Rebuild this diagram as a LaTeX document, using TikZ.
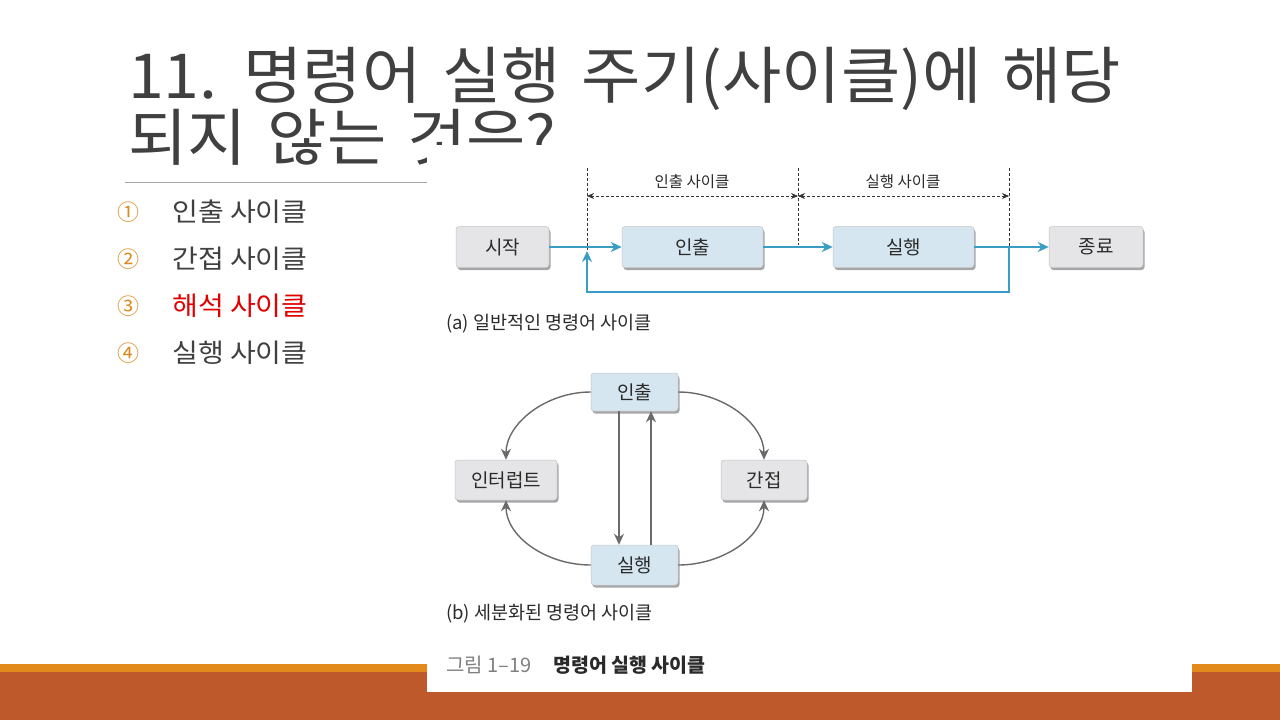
\documentclass[tikz,border=0pt]{standalone}
\usepackage{fontspec}
\setmainfont{Noto Sans CJK KR}
\newfontfamily\titlefont[FakeStretch=1.04,WordSpace=1.45]{Noto Sans CJK KR}
\newfontfamily\listfont[FakeStretch=1.08]{Noto Sans CJK KR}
\usetikzlibrary{arrows.meta,shadows}
\definecolor{titlegray}{HTML}{404040}
\definecolor{listorange}{HTML}{DA8A1E}
\definecolor{listred}{HTML}{E00000}
\definecolor{ruleg}{HTML}{A6A6A6}
\definecolor{bandorange}{HTML}{E38A1D}
\definecolor{banddark}{HTML}{BE592C}
\definecolor{boxgray}{HTML}{E5E5E7}
\definecolor{boxblue}{HTML}{D5E6F1}
\definecolor{boxedge}{HTML}{C4C4C8}
\definecolor{flowblue}{HTML}{3A9DC4}
\definecolor{curvegray}{HTML}{6A6A6A}
\definecolor{dimblack}{HTML}{333333}
\definecolor{figtext}{HTML}{2A2A2A}
\definecolor{figgray}{HTML}{808080}
\begin{document}
\begin{tikzpicture}[x=1pt,y=-1pt,
  basebox/.style={draw=boxedge, line width=0.5pt, rounded corners=3pt, inner sep=0pt,
    text=figtext, font=\fontsize{19}{22}\selectfont,
    drop shadow={shadow xshift=1.5pt, shadow yshift=-2.5pt, opacity=0.35, fill=black}},
  gbox/.style={basebox, fill=boxgray},
  bbox/.style={basebox, fill=boxblue},
  blueflow/.style={draw=flowblue, line width=1.8pt, -{Stealth[length=11pt,width=10pt]}},
  grayflow/.style={draw=curvegray, line width=1.4pt, -{Stealth[length=11pt,width=10pt]}},
  dashline/.style={draw=dimblack, line width=0.7pt, dash pattern=on 3pt off 2pt},
  dimarrow/.style={draw=dimblack, line width=0.7pt, dash pattern=on 3pt off 2pt,
    {Stealth[length=7pt,width=6pt]}-{Stealth[length=7pt,width=6pt]}},
  dimlabel/.style={text=figtext, font=\fontsize{15.5}{18}\selectfont, inner sep=0pt},
  caption/.style={text=figtext, font=\fontsize{18.5}{21}\selectfont, inner sep=0pt, anchor=west},
  titletext/.style={text=titlegray, font=\titlefont\fontsize{62}{70}\selectfont, inner sep=0pt, anchor=base west},
  numtext/.style={text=listorange, font=\fontsize{22}{26}\selectfont, inner sep=0pt},
  itemtext/.style={text=titlegray, font=\listfont\fontsize{26}{30}\selectfont, inner sep=0pt, anchor=base west}
]
\useasboundingbox (0,0) rectangle (1280,720);
\fill[white] (0,0) rectangle (1280,720);

% title
\node[titletext] (t1) at (128,98) {11. 명령어 실행 주기(사이클)에 해당};
\node[titletext] (t2) at (128,160) {되지 않는 것은?};
\draw[ruleg, line width=1pt] (125,182) -- (427,182);

% list
\node[numtext] (n1) at (128,212) {①};
\node[numtext] (n2) at (128,259) {②};
\node[numtext] (n3) at (128,306) {③};
\node[numtext] (n4) at (128,353) {④};
\node[itemtext] (i1) at (172,221) {인출 사이클};
\node[itemtext] (i2) at (172,268) {간접 사이클};
\node[itemtext, text=listred] (i3) at (172,315) {해석 사이클};
\node[itemtext] (i4) at (172,362) {실행 사이클};

% bottom bands
\fill[bandorange] (0,664) rectangle (1280,672);
\fill[banddark] (0,672) rectangle (1280,720);

% pasted figure background
\fill[white] (427,145) rectangle (1192,692);

% (a) general cycle
\node[gbox, minimum width=93pt, minimum height=41pt] (start) at (502.5,247) {시작};
\node[bbox, minimum width=141pt, minimum height=41pt] (fetchA) at (692.5,247) {인출};
\node[bbox, minimum width=141pt, minimum height=41pt] (execA) at (903.5,247) {실행};
\node[gbox, minimum width=94pt, minimum height=41pt] (endA) at (1096,247) {종료};

\coordinate (d1t) at (587,168); \coordinate (d1b) at (587,250);
\coordinate (d2t) at (798,168); \coordinate (d2b) at (798,245);
\coordinate (d3t) at (1009,168); \coordinate (d3b) at (1009,247);
\draw[dashline] (d1t) -- (d1b);
\draw[dashline] (d2t) -- (d2b);
\draw[dashline] (d3t) -- (d3b);
\coordinate (m1) at (587,196); \coordinate (m2) at (798,196); \coordinate (m3) at (1009,196);
\draw[dimarrow] (m1) -- (m2);
\draw[dimarrow] (m2) -- (m3);
\node[dimlabel] (lab1) at (692,182) {인출 사이클};
\node[dimlabel] (lab2) at (903,182) {실행 사이클};

\draw[blueflow] (start.east) -- (fetchA.west);
\draw[blueflow] (fetchA.east) -- (execA.west);
\draw[blueflow] (execA.east) -- (endA.west);
\coordinate (fb1) at (1009,247);
\coordinate (fb2) at (1009,292);
\coordinate (fb3) at (587,292);
\coordinate (fb4) at (587,251);
\draw[blueflow] (fb1) -- (fb2) -- (fb3) -- (fb4);

\node[caption] (capA) at (446,324) {(a) 일반적인 명령어 사이클};

% (b) detailed cycle
\node[bbox, minimum width=87pt, minimum height=38pt] (fetchB) at (634.5,392) {인출};
\node[gbox, minimum width=102pt, minimum height=40pt] (intr) at (506,480) {인터럽트};
\node[gbox, minimum width=86pt, minimum height=40pt] (indir) at (764,480) {간접};
\node[bbox, minimum width=87pt, minimum height=40pt] (execB) at (634.5,565) {실행};

\draw[grayflow] (fetchB.west) .. controls +(-45,0) and +(0,-36) .. (intr.north);
\draw[grayflow] (fetchB.east) .. controls +(45,0) and +(0,-36) .. (indir.north);
\draw[grayflow] (execB.west) .. controls +(-45,0) and +(0,36) .. (intr.south);
\draw[grayflow] (execB.east) .. controls +(45,0) and +(0,36) .. (indir.south);
\draw[grayflow] ([xshift=-15.5pt]fetchB.south) -- ([xshift=-15.5pt]execB.north);
\draw[grayflow] ([xshift=16.5pt]execB.north) -- ([xshift=16.5pt]fetchB.south);

\node[caption] (capB) at (446,614) {(b) 세분화된 명령어 사이클};

% figure title
\node[caption, text=figgray, font=\fontsize{20}{23}\selectfont] (fig1) at (446,665) {그림 1–19};
\node[caption, font=\fontsize{19.5}{22}\selectfont\bfseries] (fig2) at (553,665) {명령어 실행 사이클};
\end{tikzpicture}
\end{document}
